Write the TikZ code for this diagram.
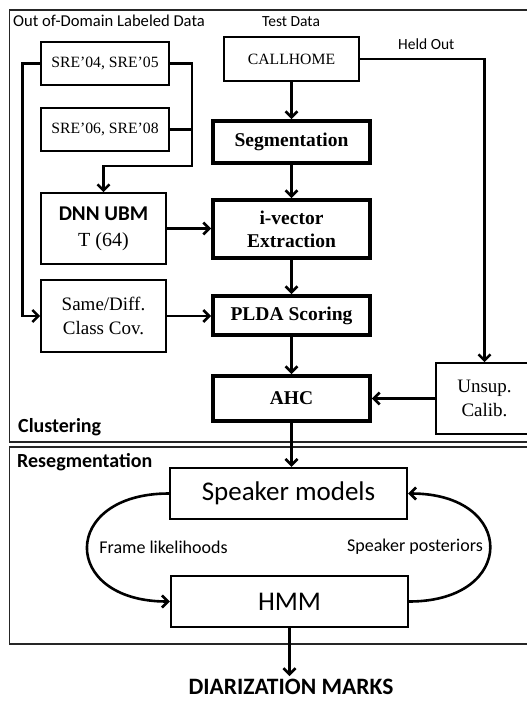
\documentclass[tikz,border=0pt]{standalone}
\usepackage{fontspec}
\setmainfont{Liberation Serif}
\newfontfamily\calfont{Carlito}
\usetikzlibrary{arrows.meta}
\begin{document}
\begin{tikzpicture}[x=1pt,y=-1pt,
  thinbox/.style={draw, line width=1.6pt, inner sep=0pt, align=center,
    font=\fontsize{19}{24}\selectfont},
  thickbox/.style={draw, line width=3.8pt, inner sep=0pt, align=center,
    font=\fontsize{19.5}{23}\selectfont\bfseries},
  resbox/.style={draw, line width=2.4pt, inner sep=0pt,
    minimum width=237pt, minimum height=51pt,
    font=\calfont\fontsize{27}{30}\selectfont},
  region/.style={draw=black!85, line width=1.2pt},
  tip/.style={-{Straight Barb[length=6pt,width=12pt]}},
  flow/.style={line width=2.6pt, tip},
  link/.style={line width=2.6pt},
  lbl/.style={font=\calfont\fontsize{15.5}{18}\selectfont, inner sep=0pt, anchor=base west},
  head/.style={font=\calfont\bfseries\fontsize{20}{24}\selectfont, inner sep=0pt, anchor=base west},
  note/.style={font=\calfont\fontsize{18}{21}\selectfont, inner sep=0pt},
]
\useasboundingbox (0,0) rectangle (527,701);

% stage frames
\draw[region] (9.5,10) rectangle (540,442);
\draw[region] (9.5,447) rectangle (540,644);

% data sources
\node[thinbox, font=\fontsize{15.7}{19}\selectfont, minimum width=128pt, minimum height=43pt] (sreA) at (105,63.5) {SRE’04, SRE’05};
\node[thinbox, font=\fontsize{15.7}{19}\selectfont, minimum width=128pt, minimum height=43pt] (sreB) at (105,129.5) {SRE’06, SRE’08};
\node[thinbox, font=\fontsize{15.7}{19}\selectfont, minimum width=135pt, minimum height=44pt] (call) at (291.5,59) {CALLHOME};

% clustering pipeline
\node[thickbox, minimum width=157pt, minimum height=42pt] (seg) at (291.5,142) {Segmentation};
\node[thickbox, minimum width=157pt, minimum height=58pt] (ivec) at (291.5,229) {i-vector\\Extraction};
\node[thickbox, minimum width=157pt, minimum height=39pt] (plda) at (291.5,315.5) {PLDA Scoring};
\node[thickbox, minimum width=157pt, minimum height=45pt] (ahc) at (291.5,398.5) {AHC};

% trained models
\node[thinbox, font=\fontsize{20}{26}\selectfont, minimum width=125pt, minimum height=71pt] (dnn) at (103.5,228.5)
  {{\calfont\bfseries\fontsize{21}{26}\selectfont DNN UBM}\\T (64)};
\node[thinbox, minimum width=125pt, minimum height=72pt] (same) at (103.5,316) {Same/Diff.\\Class Cov.};
\node[thinbox, minimum width=97pt, minimum height=71pt] (unsup) at (484.5,398.5) {Unsup.\\Calib.};

% resegmentation
\node[resbox] (spk) at (288.5,493.5) {Speaker models};
\node[resbox] (hmm) at (289.5,601.5) {HMM};
\node[font=\calfont\bfseries\fontsize{23.5}{26}\selectfont, inner sep=0pt] (marks) at (291,687) {DIARIZATION MARKS};

% labels
\node[lbl, font=\calfont\fontsize{16.6}{18}\selectfont] (odl) at (13,26.7) {Out of-Domain Labeled Data};
\node[lbl] (tst) at (262,26.7) {Test Data};
\node[lbl] (held) at (398,50) {Held Out};
\node[head] (clu) at (18,432.5) {Clustering};
\node[head] (res) at (17,467) {Resegmentation};
\node[note] (fl) at (163.5,547) {Frame likelihoods};
\node[note] (sp) at (415,547) {Speaker posteriors};

% connectors
\coordinate (join) at (192,166);
\draw[flow, line join=miter] (sreA.west) -- ++(-18,0) |- (same.west);
\draw[flow, line join=miter] (sreA.east) -| (join) -| (dnn.north);
\draw[link] (sreB.east) -- (sreB.east -| join);
\draw[flow] (call.south) -- (seg.north);
\draw[flow] (seg.south) -- (ivec.north);
\draw[flow] (ivec.south) -- (plda.north);
\draw[flow] (plda.south) -- (ahc.north);
\draw[flow] (dnn.east) -- (dnn.east -| ivec.west);
\draw[flow] (same.east) -- (same.east -| plda.west);
\draw[flow, line join=miter] (call.east) -| (unsup.north);
\draw[flow] (unsup.west) -- (ahc.east);
\draw[flow] (ahc.south) -- (ahc.south |- spk.north);
\draw[flow, shorten >=3pt] (hmm.south) -- (hmm.south |- marks.north);
\draw[flow] (spk.west) .. controls (60,493.5) and (60,601.5) .. (hmm.west);
\draw[flow] (hmm.east) .. controls (517,601.5) and (517,493.5) .. (spk.east);
\end{tikzpicture}
\end{document}
